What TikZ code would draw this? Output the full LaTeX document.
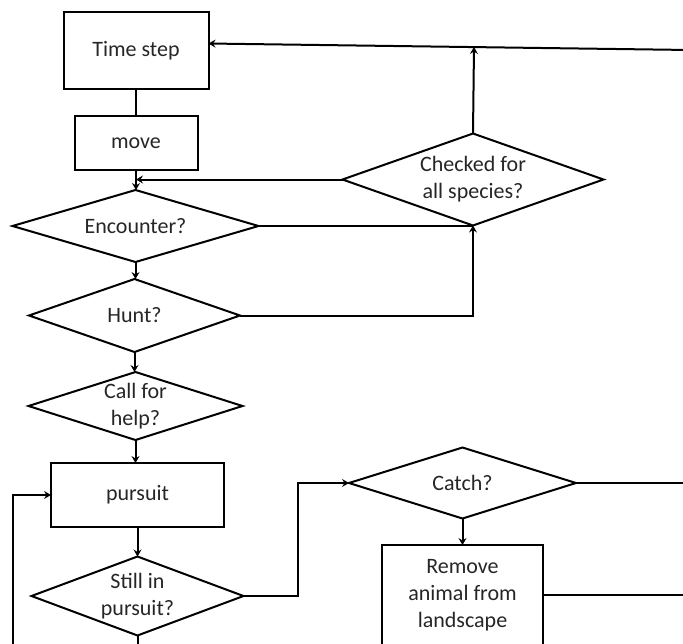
\documentclass[tikz,border=0pt]{standalone}
\usepackage{fontspec}
\setmainfont{Carlito}
\usetikzlibrary{arrows.meta,shapes.geometric}
\begin{document}
\begin{tikzpicture}[x=1pt,y=-1pt,
  every node/.style={inner sep=0pt,outer sep=0pt},
  line/.style={line width=2pt,black},
  arr/.style={line,-{Stealth[length=7pt,width=8pt,inset=2.5pt]}},
  box/.style={draw=black,line width=2pt,rectangle},
  dia/.style={draw=black,line width=2pt,diamond},
  txt/.style={font=\fontsize{22}{27}\selectfont,align=center,text=black!85}]
\useasboundingbox (0,0) rectangle (683,643);
\clip (0,0) rectangle (683,643);

% process boxes
\node[box,minimum width=145pt,minimum height=77pt] (ts) at (136,50.5) {};
\node[txt] (ts-t) at (ts) {Time step};
\node[box,minimum width=123pt,minimum height=54pt] (mv) at (136,143) {};
\node[txt] (mv-t) at (mv) {move};
\node[box,minimum width=173pt,minimum height=64pt] (pur) at (137.5,495) {};
\node[txt] (pur-t) at (pur) {pursuit};
\node[box,minimum width=161pt,minimum height=100pt] (rem) at (462.5,595) {};
\node[txt] (rem-t) at (rem) {Remove\\animal from\\landscape};

% decisions
\node[dia,minimum width=246pt,minimum height=72pt] (enc) at (135.5,226) {};
\node[txt] (enc-t) at (enc) {Encounter?};
\node[dia,minimum width=261pt,minimum height=92pt] (chk) at (473,179.5) {};
\node[txt] (chk-t) at (chk) {Checked for\\all species?};
\node[dia,minimum width=211pt,minimum height=73pt] (hunt) at (134.5,315.5) {};
\node[txt] (hunt-t) at (hunt) {Hunt?};
\node[dia,minimum width=214pt,minimum height=68pt] (call) at (135.5,406) {};
\node[txt] (call-t) at (call) {Call for\\help?};
\node[dia,minimum width=212pt,minimum height=79pt] (still) at (137.5,596) {};
\node[txt] (still-t) at (still) {Still in\\pursuit?};
\node[dia,minimum width=227pt,minimum height=71pt] (catch) at (462.5,483) {};
\node[txt] (catch-t) at (catch) {Catch?};

% free ends running off the sheet
\coordinate (ret) at (690,50);
\coordinate (topj) at (474,47);
\coordinate (catchout) at (690,483);
\coordinate (remout) at (690,595);
\coordinate (stillout) at (137.5,660);
\coordinate (loopin) at (13,660);

% connectors
\draw[line] (ts.south) -- (mv.north);
\draw[arr] (ret) -- ([yshift=7pt]ts.east);
\draw[arr] (mv.south) -- (mv.south |- enc.north);
\draw[arr] (chk.west) -- (chk.west -| mv.south);
\draw[arr] (chk.north) -- (topj);
\draw[line] (enc.east) -- (enc.east -| chk.south);
\draw[arr] (hunt.east) -| (chk.south);
\draw[arr] (enc.south) -- (enc.south |- hunt.north);
\draw[arr] (hunt.south) -- (hunt.south |- call.north);
\draw[arr] (call.south) -- (call.south |- pur.north);
\draw[arr] (pur.south) -- (still.north);
\draw[line] (still.south) -- (stillout);
\draw[arr] (loopin) |- (pur.west);
\draw[arr] (still.east) -- ++(54,0) |- (catch.west);
\draw[line] (catch.east) -- (catchout);
\draw[arr] (catch.south) -- (rem.north);
\draw[line] (rem.east) -- (remout);
\end{tikzpicture}
\end{document}
